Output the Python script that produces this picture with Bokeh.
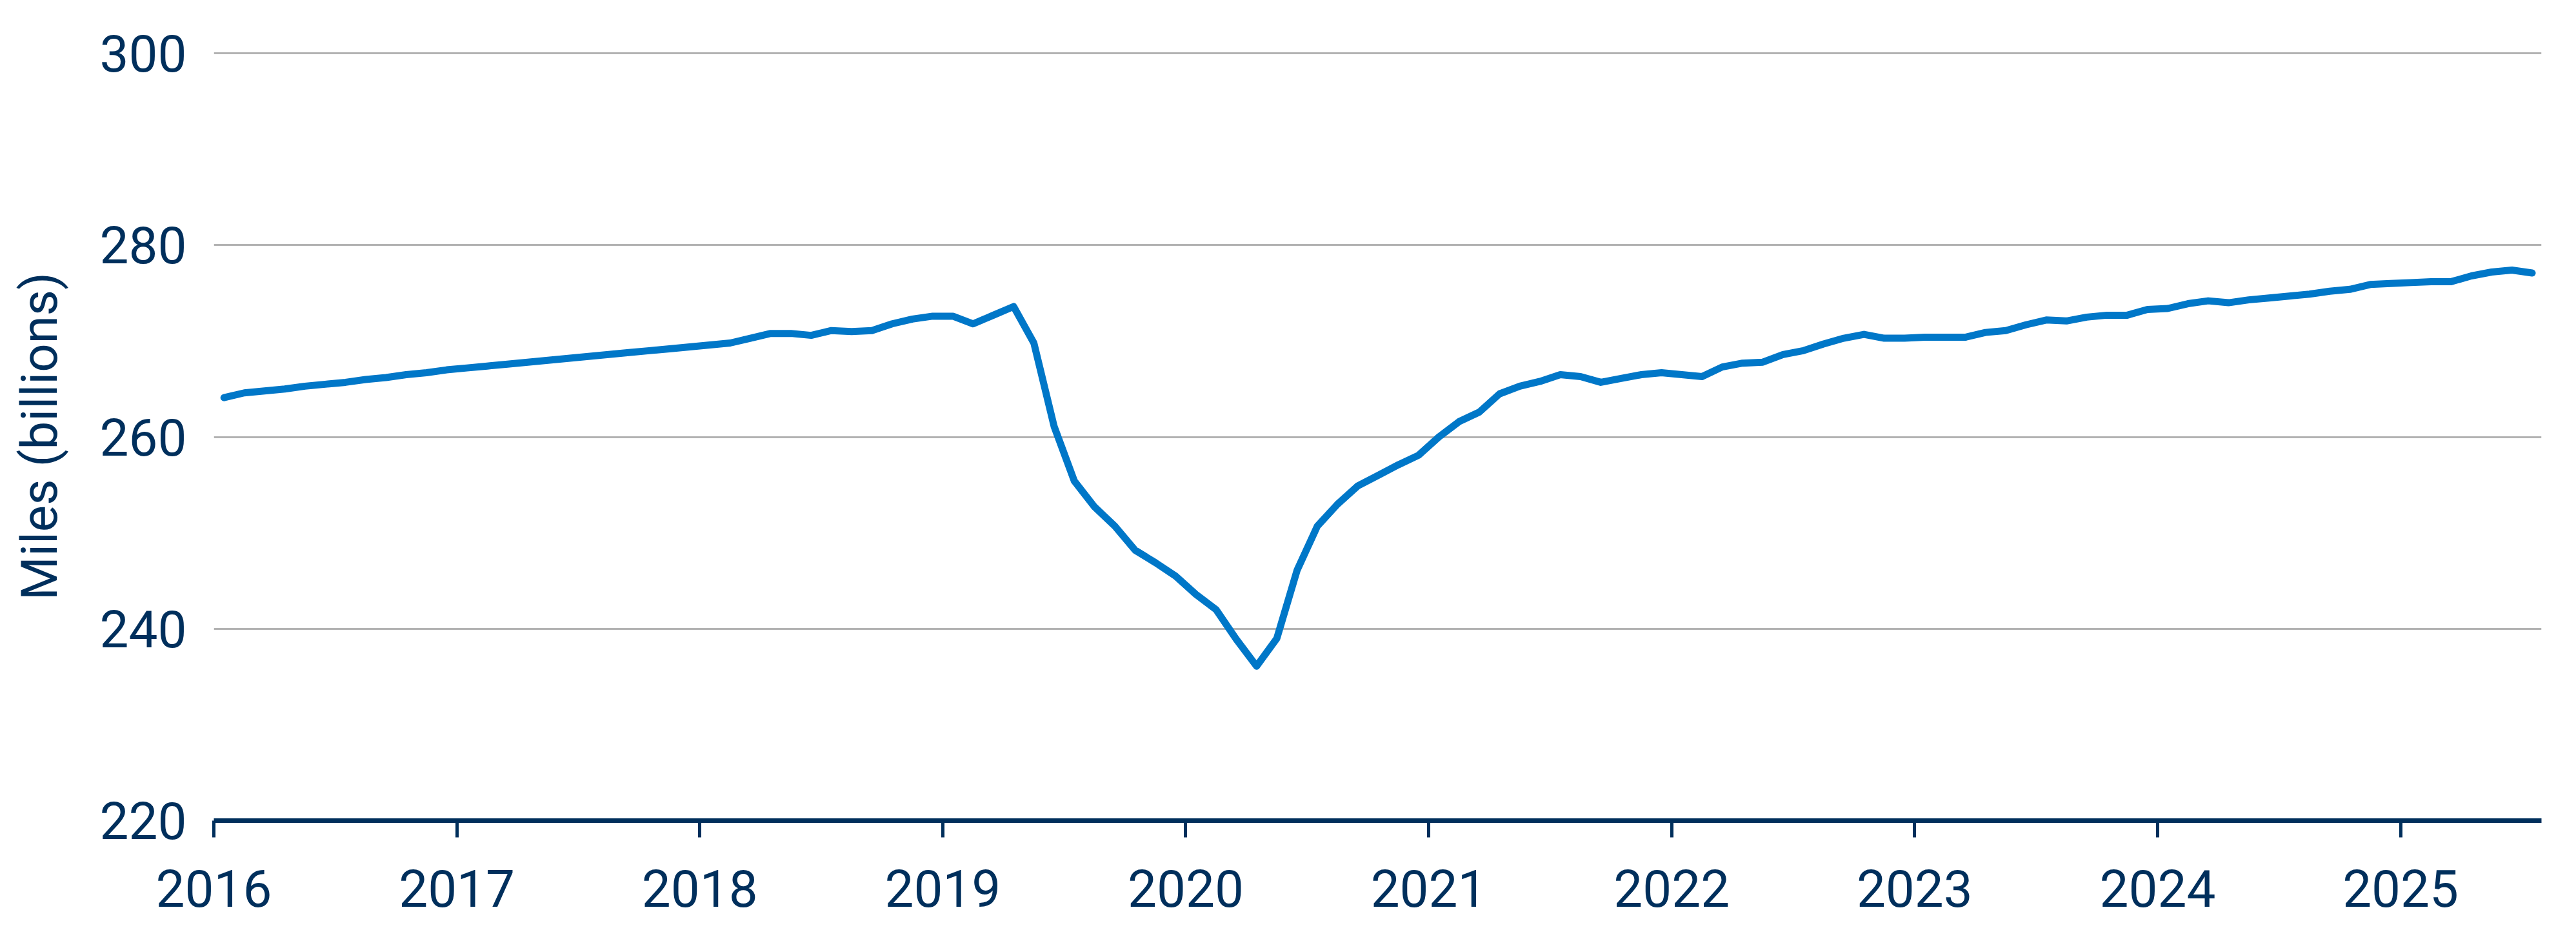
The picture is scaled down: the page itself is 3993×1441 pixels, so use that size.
from bokeh.plotting import figure
from bokeh.models import Range1d, FixedTicker
from bokeh.embed import file_html
from bokeh.resources import INLINE

# Monthly data, Jan 2016 .. Jul 2025 (miles, billions)
start_year = 2016
start_month = 1
miles = [
    264.1, 264.6, 264.8, 265.0, 265.3, 265.5, 265.7, 266.0, 266.2, 266.5, 266.7, 267.0,  # 2016
    267.2, 267.4, 267.6, 267.8, 268.0, 268.2, 268.4, 268.6, 268.8, 269.0, 269.2, 269.4,  # 2017
    269.6, 269.8, 270.3, 270.8, 270.8, 270.6, 271.1, 271.0, 271.1, 271.8, 272.3, 272.6,  # 2018
    272.6, 271.8, 272.7, 273.6, 269.8, 261.1, 255.4, 252.7, 250.7, 248.2, 246.9, 245.5,  # 2019
    243.6, 242.0, 238.9, 236.1, 239.0, 246.1, 250.7, 253.0, 254.9, 256.0, 257.1, 258.1,  # 2020
    260.0, 261.6, 262.6, 264.5, 265.3, 265.8, 266.5, 266.3, 265.7, 266.1, 266.5, 266.7,  # 2021
    266.5, 266.3, 267.3, 267.7, 267.8, 268.6, 269.0, 269.7, 270.3, 270.7, 270.3, 270.3,  # 2022
    270.4, 270.4, 270.4, 270.9, 271.1, 271.7, 272.2, 272.1, 272.5, 272.7, 272.7, 273.3,  # 2023
    273.4, 273.9, 274.2, 274.0, 274.3, 274.5, 274.7, 274.9, 275.2, 275.4, 275.9, 276.0,  # 2024
    276.1, 276.2, 276.2, 276.8, 277.2, 277.4, 277.1,                                      # 2025
]
year_ticks = [2016, 2017, 2018, 2019, 2020, 2021, 2022, 2023, 2024, 2025]
year_labels = ["2016", "2017", "2018", "2019", "2020", "2021", "2022", "2023", "2024", "2025"]
y_ticks = [220, 240, 260, 280, 300]
y_title = "Miles (billions)"

# each month plotted at its middle
xs = [start_year + (start_month - 1 + k + 0.5) / 12 for k in range(len(miles))]

NAVY = "#002F5C"
BLUE = "#0077C8"
FONT = "Roboto"

p = figure(width=3993, height=1441, output_backend="svg", toolbar_location=None,
           x_range=Range1d(2016, 2025.58), y_range=Range1d(220, 300.15),
           min_border_left=331, min_border_right=54, min_border_top=80, min_border_bottom=170)
p.outline_line_color = None
p.background_fill_color = "white"
p.border_fill_color = "white"

p.line(xs, miles, line_width=11, line_color=BLUE, line_join="round", line_cap="round")

# x axis
xa = p.xaxis[0]
xa.ticker = FixedTicker(ticks=year_ticks)
xa.major_label_overrides = {t: l for t, l in zip(year_ticks, year_labels)}
xa.axis_line_color = NAVY
xa.axis_line_width = 7
xa.major_tick_line_color = NAVY
xa.major_tick_line_width = 5
xa.major_tick_out = 26
xa.major_tick_in = 0
xa.minor_tick_line_color = None
xa.major_label_text_font = FONT
xa.major_label_text_font_size = "80px"
xa.major_label_text_color = NAVY
xa.major_label_standoff = 50

# y axis
ya = p.yaxis[0]
ya.ticker = FixedTicker(ticks=y_ticks)
ya.axis_line_color = None
ya.major_tick_line_color = None
ya.minor_tick_line_color = None
ya.major_tick_out = 0
ya.major_tick_in = 0
ya.major_label_text_font = FONT
ya.major_label_text_font_size = "80px"
ya.major_label_text_color = NAVY
ya.major_label_standoff = 42
ya.axis_label = y_title
ya.axis_label_text_font = FONT
ya.axis_label_text_font_size = "78px"
ya.axis_label_text_font_style = "normal"
ya.axis_label_text_color = NAVY
ya.axis_label_standoff = 45

p.xgrid.grid_line_color = None
p.ygrid.grid_line_color = "#B3B3B3"
p.ygrid.grid_line_width = 3

open("out.html", "w").write(file_html(p, INLINE))
